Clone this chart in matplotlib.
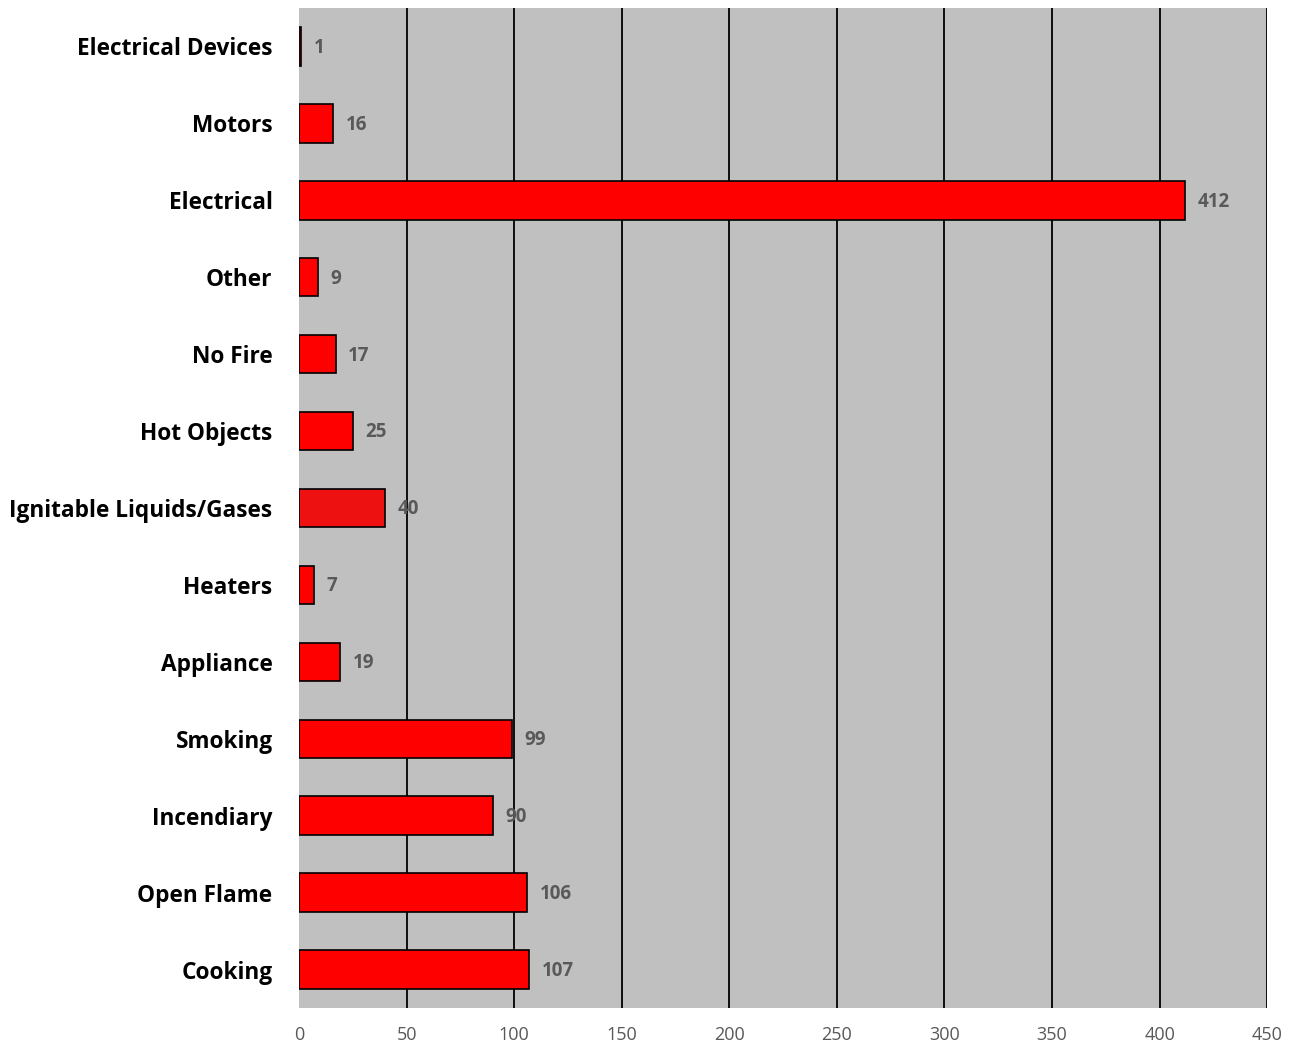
import matplotlib
matplotlib.use("Agg")
import matplotlib.pyplot as plt

categories = ["Electrical Devices", "Motors", "Electrical", "Other", "No Fire",
              "Hot Objects", "Ignitable Liquids/Gases", "Heaters", "Appliance",
              "Smoking", "Incendiary", "Open Flame", "Cooking"]
values = [1, 16, 412, 9, 17, 25, 40, 7, 19, 99, 90, 106, 107]
xticks = [0, 50, 100, 150, 200, 250, 300, 350, 400, 450]

plt.rcParams['font.family'] = ['Open Sans', 'DejaVu Sans']

fig = plt.figure(figsize=(12.91, 10.47), dpi=100)
ax = fig.add_axes([0.2316, 0.0372, 0.75, 0.9552])
ax.set_facecolor("#C0C0C0")

colors = ["#FF0000"] * len(values)
colors[categories.index("Ignitable Liquids/Gases")] = "#EE1111"
ypos = list(range(len(categories)))
ax.barh(ypos, values, height=0.5, color=colors, edgecolor="black", linewidth=1.2, zorder=3)

for y, v in zip(ypos, values):
    ax.annotate(str(v), xy=(v, y), xytext=(9, -1), textcoords="offset points",
                va="center", ha="left", fontsize=13.5, fontweight="bold",
                color="#595959", zorder=4)

ax.set_xlim(0, 450)
ax.set_ylim(len(categories) - 0.5, -0.5)
ax.set_yticks(ypos)
ax.set_yticklabels(categories, fontsize=16.3, fontweight="bold", color="black")
ax.set_xticks(xticks)
ax.set_xticklabels([str(t) for t in xticks], fontsize=13, color="#595959")
ax.tick_params(axis="both", length=0)
ax.tick_params(axis="y", pad=19)
ax.tick_params(axis="x", pad=13)

for t in xticks[1:]:
    ax.axvline(t, color="black", linewidth=1.3, zorder=2)

for s in ax.spines.values():
    s.set_visible(False)

fig.savefig("out.png", dpi=100)
